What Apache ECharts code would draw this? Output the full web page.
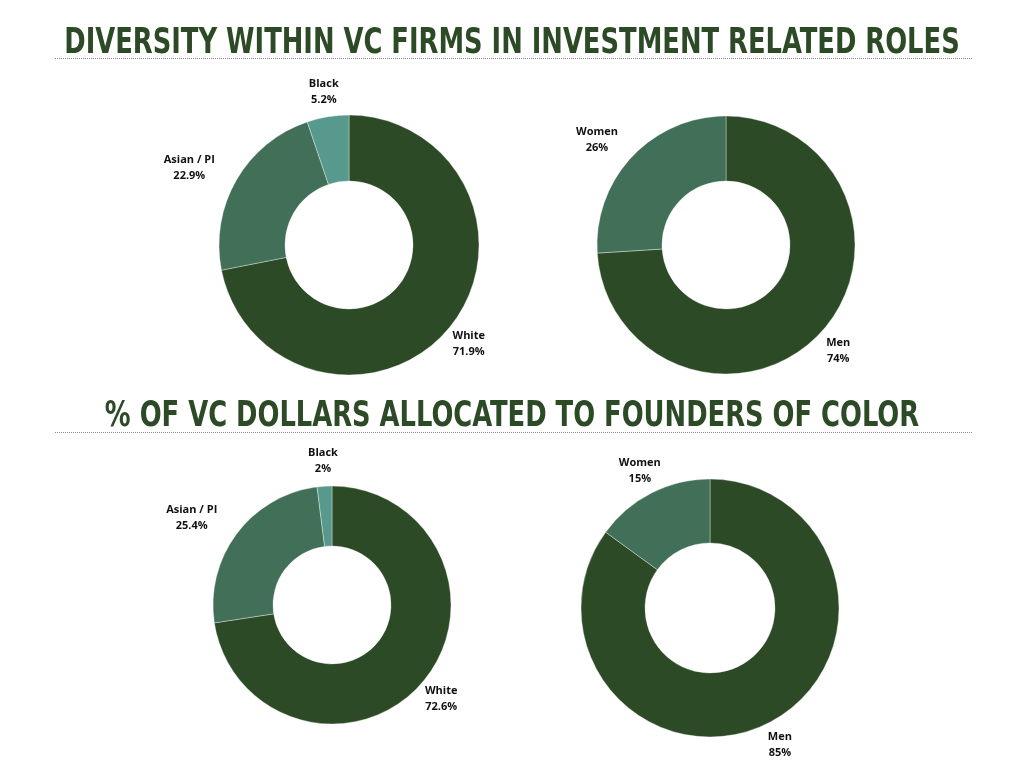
<!DOCTYPE html>
<html>
<head>
<meta charset="utf-8">
<script src="https://cdn.jsdelivr.net/npm/echarts@6/dist/echarts.min.js"></script>
<style>html,body{margin:0;padding:0;background:#fff;}#c{width:1024px;height:768px;}</style>
</head>
<body>
<div id="c"></div>
<script>
// ---- data ----
const raceCats = ['White', 'Asian / PI', 'Black'];
const raceRoles = [71.9, 22.9, 5.2];
const raceDollars = [72.6, 25.4, 2];
const genderCats = ['Men', 'Women'];
const genderRoles = [74, 26];
const genderDollars = [85, 15];
const titles = ['DIVERSITY WITHIN VC FIRMS IN INVESTMENT RELATED ROLES', '% OF VC DOLLARS ALLOCATED TO FOUNDERS OF COLOR'];

// ---- layout / style ----
const raceColors = ['#2d4a26', '#426f58', '#57998c'];
const genderColors = ['#2d4a26', '#426f58'];
const charts = [
  {cats: raceCats, vals: raceRoles, colors: raceColors, center: [349, 245], radius: [64, 130]},
  {cats: genderCats, vals: genderRoles, colors: genderColors, center: [726, 245], radius: [64, 129]},
  {cats: raceCats, vals: raceDollars, colors: raceColors, center: [332, 605], radius: [59, 119]},
  {cats: genderCats, vals: genderDollars, colors: genderColors, center: [710, 608], radius: [65, 129]}
];

function makeLabelLayout(ch) {
  return function (p) {
    const total = ch.vals.reduce((a, b) => a + b, 0);
    let cum = 0;
    for (let i = 0; i < p.dataIndex; i++) cum += ch.vals[i];
    const mid = (cum + ch.vals[p.dataIndex] / 2) / total * Math.PI * 2;
    const s = Math.sin(mid), c = Math.cos(mid);
    const d = ch.radius[1] + 25;
    const k = Math.max(0, Math.min(1, (-s - 0.45) / 0.35));
    const shift = k * p.labelRect.width / 2;
    return {
      x: ch.center[0] + d * s - shift,
      y: ch.center[1] - d * c,
      align: 'center',
      verticalAlign: 'middle'
    };
  };
}

const series = charts.map(ch => ({
  type: 'pie',
  center: ch.center,
  radius: ch.radius,
  startAngle: 90,
  clockwise: true,
  avoidLabelOverlap: false,
  silent: true,
  itemStyle: {borderColor: 'rgba(255,255,255,0.6)', borderWidth: 0.6},
  label: {
    show: true,
    position: 'outside',
    formatter: '{n|{b}}\n{n|{c}%}',
    rich: {
      n: {align: 'center', fontSize: 11, fontWeight: 'bold', lineHeight: 16, color: '#111', fontFamily: 'Open Sans'}
    }
  },
  labelLine: {show: false},
  labelLayout: makeLabelLayout(ch),
  data: ch.cats.map((name, i) => ({name: name, value: ch.vals[i], itemStyle: {color: ch.colors[i]}}))
}));

const titleFont = 'bold 35px "DejaVu Sans Condensed", "Liberation Sans", sans-serif';
function titleText(text, y) {
  return {
    type: 'text', x: 512, y: y, scaleX: 0.819, scaleY: 1, silent: true,
    style: {text: text, font: titleFont, fill: '#2d4a26', align: 'center', verticalAlign: 'middle'}
  };
}

const chart = echarts.init(document.getElementById('c'), null, {renderer: 'canvas'});
chart.setOption({
  backgroundColor: '#ffffff',
  animation: false,
  graphic: [
    titleText(titles[0], 43.5),
    titleText(titles[1], 417),
    {type: 'line', silent: true, shape: {x1: 55, y1: 58.5, x2: 972, y2: 58.5}, style: {stroke: '#8a8a8a', lineWidth: 1, lineDash: [1, 1]}},
    {type: 'line', silent: true, shape: {x1: 55, y1: 432.5, x2: 972, y2: 432.5}, style: {stroke: '#8a8a8a', lineWidth: 1, lineDash: [1, 1]}}
  ],
  series: series
});
</script>
</body>
</html>
